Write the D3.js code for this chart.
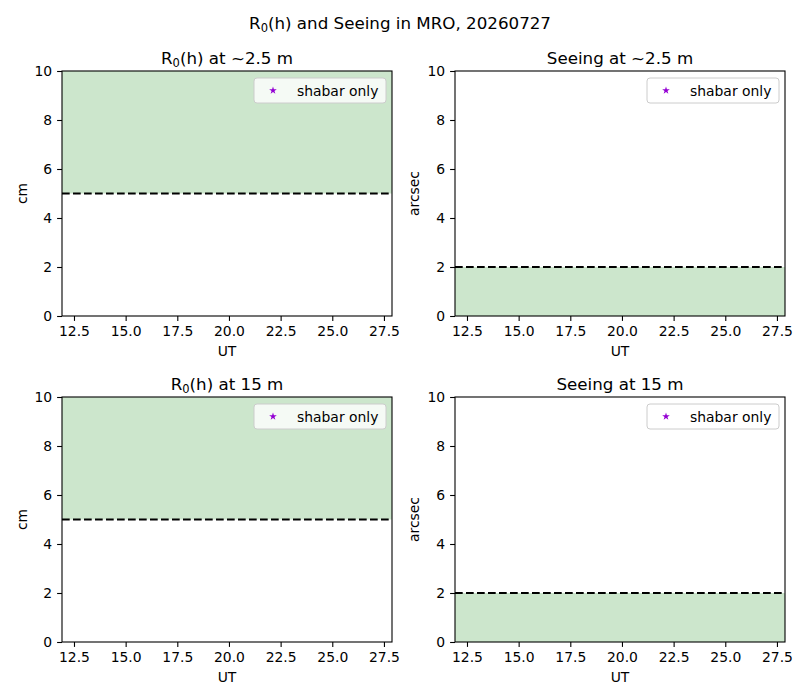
<!DOCTYPE html>
<html><head><meta charset="utf-8">
<script src="https://cdn.jsdelivr.net/npm/d3@7"></script>
<style>body{margin:0;background:#fff}svg{display:block;font-family:"DejaVu Sans",sans-serif}</style>
</head><body><div id="c"></div>
<script>
const suptitle = "R₀(h) and Seeing in MRO, 20260727";
const panelTitles = [["R","0","(h) at ~2.5 m"],["","","Seeing at ~2.5 m"],["R","0","(h) at 15 m"],["","","Seeing at 15 m"]];
const yLabels = ["cm","arcsec","cm","arcsec"];
const thresholds = [5, 2, 5, 2];
const fillAbove = [true, false, true, false];
const xTicks = [12.5, 15.0, 17.5, 20.0, 22.5, 25.0, 27.5];
const yTicks = [0, 2, 4, 6, 8, 10];
const xDomain = [11.92, 27.89];
const yDomain = [0, 10];
const legendLabel = "shabar only";
// shabar-only series (no points visible in the reference)
const shabarUT = [];
const shabarValues = [[], [], [], []];

const W = 800, H = 700;
const svg = d3.select("#c").append("svg").attr("width", W).attr("height", H);
svg.append("text").attr("x", 400).attr("y", 29).attr("text-anchor", "middle")
  .attr("font-size", 16.7).attr("fill", "#000")
  .call(t => { t.append("tspan").text("R"); t.append("tspan").attr("font-size", 11.5).attr("dy", 3).text("0"); t.append("tspan").attr("dy", -3).text("(h) and Seeing in MRO, 20260727"); });

const lefts = [62, 455], tops = [71, 397];
const pw = 330, ph = 245;
const green = "rgb(204,230,204)";

for (let i = 0; i < 4; i++) {
  const ox = lefts[i % 2], oy = tops[Math.floor(i / 2)];
  const g = svg.append("g").attr("transform", `translate(${ox},${oy})`);
  const x = d3.scaleLinear().domain(xDomain).range([0, pw]);
  const y = d3.scaleLinear().domain(yDomain).range([ph, 0]);
  const th = thresholds[i];
  if (fillAbove[i]) {
    g.append("rect").attr("x", 0).attr("y", y(yDomain[1])).attr("width", pw).attr("height", y(th) - y(yDomain[1])).attr("fill", green);
  } else {
    g.append("rect").attr("x", 0).attr("y", y(th)).attr("width", pw).attr("height", y(yDomain[0]) - y(th)).attr("fill", green);
  }
  g.append("line").attr("x1", 0).attr("x2", pw).attr("y1", y(th)).attr("y2", y(th))
    .attr("stroke", "#000").attr("stroke-width", 2.08).attr("stroke-dasharray", "7.7,3.3");
  // data points
  g.selectAll(".pt").data(shabarUT.map((u, k) => [u, shabarValues[i][k]])).enter().append("path")
    .attr("transform", d => `translate(${x(d[0])},${y(d[1])})`)
    .attr("d", d3.symbol().type(d3.symbolStar).size(20)).attr("fill", "darkviolet");

  const xa = g.append("g").attr("transform", `translate(0,${ph})`)
    .call(d3.axisBottom(x).tickValues(xTicks).tickFormat(d3.format(".1f")).tickSizeOuter(0).tickSize(4.9).tickPadding(4.9));
  const ya = g.append("g").call(d3.axisLeft(y).tickValues(yTicks).tickFormat(d3.format("d")).tickSizeOuter(0).tickSize(4.9).tickPadding(4.9));
  [xa, ya].forEach(a => {
    a.select(".domain").remove();
    a.selectAll("text").attr("font-size", 13.9).attr("font-family", "DejaVu Sans").attr("fill", "#000");
    a.selectAll("line").attr("stroke", "#000").attr("stroke-width", 1.1);
  });
  g.append("rect").attr("x", 0).attr("y", 0).attr("width", pw).attr("height", ph)
    .attr("fill", "none").attr("stroke", "#000").attr("stroke-width", 1.1);

  // titles
  const pt = panelTitles[i];
  const tt = g.append("text").attr("x", pw / 2).attr("y", -7).attr("text-anchor", "middle").attr("font-size", 16.7).attr("fill", "#000");
  if (pt[0]) {
    tt.append("tspan").text(pt[0]);
    tt.append("tspan").attr("font-size", 11.5).attr("dy", 3).text(pt[1]);
    tt.append("tspan").attr("dy", -3).text(pt[2]);
  } else tt.text(pt[2]);

  g.append("text").attr("x", pw / 2).attr("y", ph + 40).attr("text-anchor", "middle").attr("font-size", 13.9).attr("fill", "#000").text("UT");
  g.append("text").attr("transform", `translate(${i % 2 === 0 ? -35 : -36},${ph / 2}) rotate(-90)`).attr("text-anchor", "middle")
    .attr("font-size", 13.9).attr("fill", "#000").text(yLabels[i]);

  // legend
  const lw = 132, lh = 25;
  const lg = g.append("g").attr("transform", `translate(${pw - 6 - lw},7)`);
  lg.append("rect").attr("width", lw).attr("height", lh).attr("rx", 3).attr("fill", "rgba(255,255,255,0.8)").attr("stroke", "#cccccc").attr("stroke-width", 1);
  lg.append("path").attr("transform", `translate(19,${lh / 2})`).attr("d", d3.symbol().type(d3.symbolStar).size(18)).attr("fill", "darkviolet");
  lg.append("text").attr("x", 43).attr("y", lh / 2 + 5).attr("font-size", 13.9).attr("fill", "#000").text(legendLabel);
}
</script></body></html>
